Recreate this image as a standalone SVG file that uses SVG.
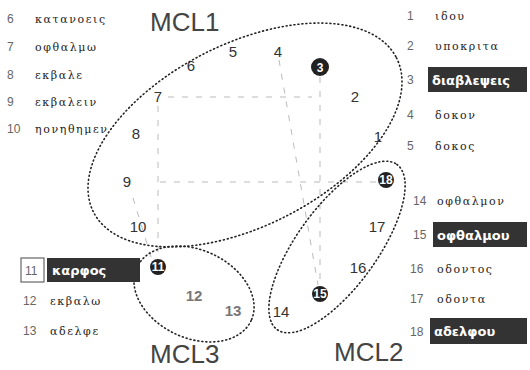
<svg xmlns="http://www.w3.org/2000/svg" width="530" height="370" viewBox="0 0 530 370">
<style>
.num{font-family:"Liberation Sans",Arial,sans-serif;font-size:12px;fill:#666}
.wd{font-family:"DejaVu Serif","Liberation Serif",serif;font-size:11px;fill:#222;letter-spacing:1.6px}
.bx{fill:#333}
.bt{font-family:"DejaVu Sans","Liberation Sans",sans-serif;font-size:13px;font-weight:bold;fill:#fff}
.nd{font-family:"Liberation Sans",Arial,sans-serif;font-size:15px;fill:#333;text-anchor:middle}
.nb{font-family:"Liberation Sans",Arial,sans-serif;font-size:15px;font-weight:bold;fill:#777;text-anchor:middle}
.dot{fill:#222}
.dt{font-family:"Liberation Sans",Arial,sans-serif;font-size:12px;font-weight:bold;fill:#fff;text-anchor:middle}
.cl{font-family:"Liberation Sans",Arial,sans-serif;font-size:26px;fill:#444}
.mcl{fill:none;stroke:#222;stroke-width:1.6;stroke-dasharray:1 3;stroke-linecap:round}
.ln{stroke:#bbb;stroke-width:1;stroke-dasharray:6 8;fill:none}
</style>
<rect width="530" height="370" fill="#fff"/>
<g id="connectors">
<line class="ln" x1="320" y1="77" x2="320" y2="285"/>
<line class="ln" x1="158" y1="106" x2="158" y2="258"/>
<line class="ln" x1="168" y1="97" x2="312" y2="97"/>
<line class="ln" x1="160" y1="182" x2="376" y2="182"/>
<line class="ln" x1="279" y1="60" x2="318" y2="285"/>
<line class="ln" x1="133" y1="198" x2="152" y2="260"/>
</g>
<g id="clusters">
<ellipse class="mcl" cx="245" cy="135" rx="170" ry="91" transform="rotate(-27 245 135)"/>
<ellipse class="mcl" cx="337" cy="247" rx="102" ry="40" transform="rotate(-54 337 247)"/>
<ellipse class="mcl" cx="194" cy="294" rx="63" ry="44" transform="rotate(25 194 294)"/>
<text class="cl" x="150" y="31">MCL1</text>
<text class="cl" x="334" y="361">MCL2</text>
<text class="cl" x="150" y="363">MCL3</text>
</g>
<g id="n1"><text class="nd" x="378" y="142">1</text></g>
<g id="n2"><text class="nd" x="355" y="102">2</text></g>
<g id="n3"><circle class="dot" cx="320" cy="67" r="9"/><text class="dt" x="320" y="72">3</text></g>
<g id="n4"><text class="nd" x="278" y="57">4</text></g>
<g id="n5"><text class="nd" x="233" y="57">5</text></g>
<g id="n6"><text class="nd" x="191" y="71">6</text></g>
<g id="n7"><text class="nd" x="158" y="102">7</text></g>
<g id="n8"><text class="nd" x="136" y="139">8</text></g>
<g id="n9"><text class="nd" x="127" y="187">9</text></g>
<g id="n10"><text class="nd" x="138" y="232">10</text></g>
<g id="n11"><circle class="dot" cx="158" cy="267" r="8"/><text class="dt" x="158" y="271">11</text></g>
<g id="n12"><text class="nb" x="194" y="301">12</text></g>
<g id="n13"><text class="nb" x="233" y="316">13</text></g>
<g id="n14"><text class="nd" x="281" y="317">14</text></g>
<g id="n15"><circle class="dot" cx="320" cy="294" r="8"/><text class="dt" x="320" y="298">15</text></g>
<g id="n16"><text class="nd" x="358" y="273">16</text></g>
<g id="n17"><text class="nd" x="377" y="232">17</text></g>
<g id="n18"><circle class="dot" cx="386" cy="180" r="8"/><text class="dt" x="386" y="184">18</text></g>
<g id="legend-left">
<text class="num" x="7" y="23">6</text><text class="wd" x="35" y="23">κατανοεις</text>
<text class="num" x="7" y="51">7</text><text class="wd" x="35" y="51">οφθαλμω</text>
<text class="num" x="7" y="79">8</text><text class="wd" x="35" y="79">εκβαλε</text>
<text class="num" x="7" y="106">9</text><text class="wd" x="35" y="106">εκβαλειν</text>
<text class="num" x="7" y="133">10</text><text class="wd" x="35" y="133">ηονηθημεν</text>
<rect x="21" y="258" width="23" height="24" fill="#fff" stroke="#666" stroke-width="1.2"/>
<text class="num" x="25" y="275">11</text>
<rect class="bx" x="47" y="258" width="93" height="24"/><text class="bt" x="52" y="275">καρφος</text>
<text class="num" x="23" y="305">12</text><text class="wd" x="50" y="305">εκβαλω</text>
<text class="num" x="23" y="335">13</text><text class="wd" x="50" y="335">αδελφε</text>
</g>
<g id="legend-right">
<text class="num" x="407" y="20">1</text><text class="wd" x="435" y="20">ιδου</text>
<text class="num" x="407" y="50">2</text><text class="wd" x="435" y="50">υποκριτα</text>
<text class="num" x="407" y="84">3</text>
<rect class="bx" x="428" y="67" width="99" height="25"/><text class="bt" x="432" y="85">διαβλεψεις</text>
<text class="num" x="407" y="119">4</text><text class="wd" x="435" y="119">δοκον</text>
<text class="num" x="407" y="150">5</text><text class="wd" x="435" y="150">δοκος</text>
<text class="num" x="413" y="205">14</text><text class="wd" x="437" y="205">οφθαλμον</text>
<text class="num" x="413" y="239">15</text>
<rect class="bx" x="433" y="222" width="94" height="25"/><text class="bt" x="437" y="240">οφθαλμου</text>
<text class="num" x="410" y="273">16</text><text class="wd" x="437" y="273">οδοντος</text>
<text class="num" x="410" y="303">17</text><text class="wd" x="437" y="303">οδοντα</text>
<text class="num" x="410" y="336">18</text>
<rect class="bx" x="430" y="318" width="97" height="26"/><text class="bt" x="434" y="336">αδελφου</text>
</g>
</svg>
